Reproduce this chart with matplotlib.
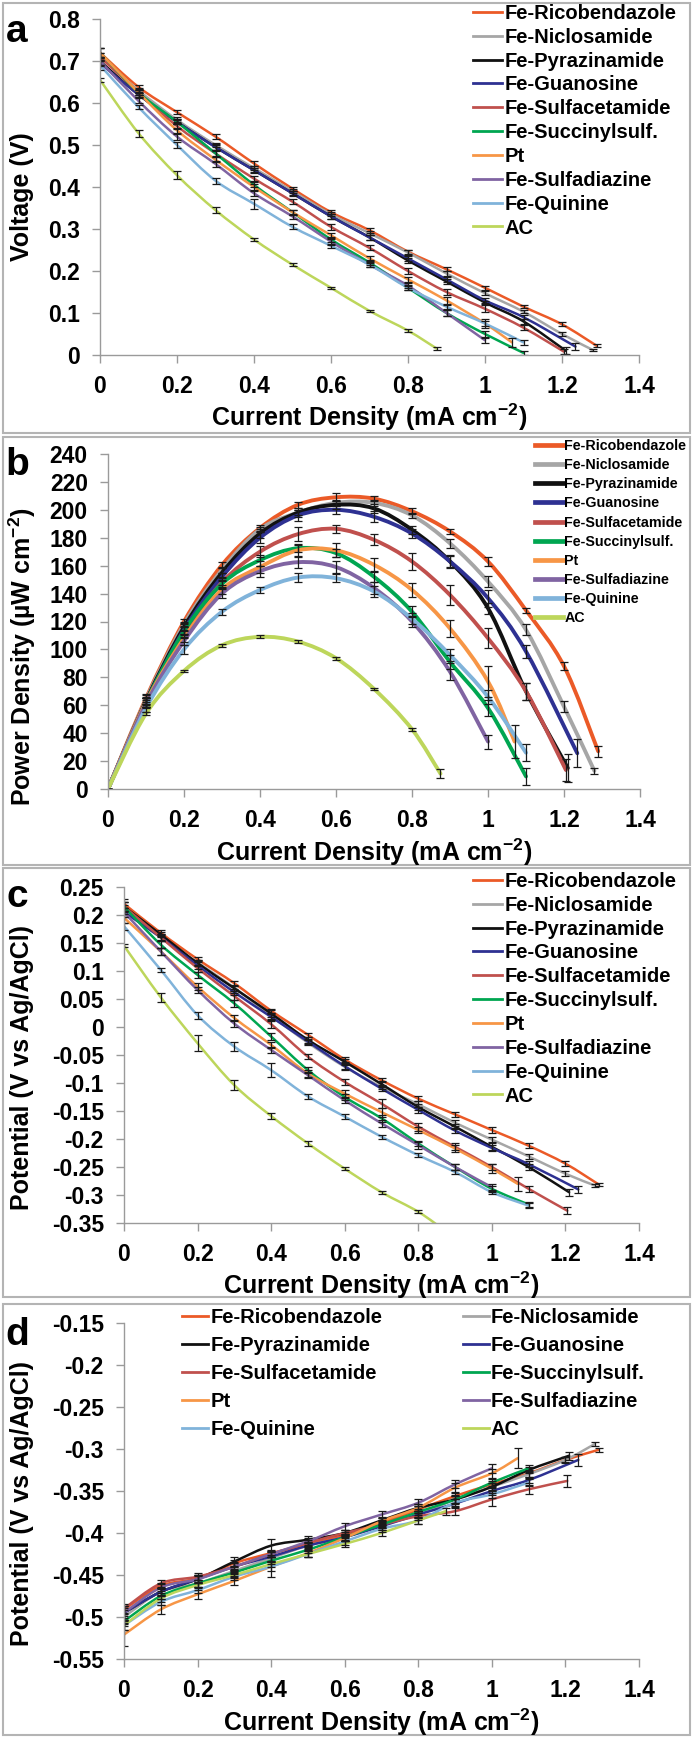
import matplotlib

matplotlib.use("Agg")
import matplotlib.pyplot as plt  # noqa: E402
import numpy as np  # noqa: E402
from matplotlib.lines import Line2D  # noqa: E402
from matplotlib.patches import PathPatch, Rectangle  # noqa: E402
from matplotlib.path import Path  # noqa: E402

plt.rcParams["font.family"] = ["Liberation Sans", "DejaVu Sans"]
plt.rcParams["font.weight"] = "bold"
plt.rcParams["mathtext.fontset"] = "custom"
plt.rcParams["mathtext.rm"] = "Liberation Sans:bold"
plt.rcParams["mathtext.bf"] = "Liberation Sans:bold"
plt.rcParams["mathtext.default"] = "bf"

W, H = 693, 1738

NAMES = ["Fe-Ricobendazole", "Fe-Niclosamide", "Fe-Pyrazinamide", "Fe-Guanosine",
         "Fe-Sulfacetamide", "Fe-Succinylsulf.", "Pt", "Fe-Sulfadiazine",
         "Fe-Quinine", "AC"]
COLORS = ["#EB5A27", "#A6A6A6", "#111111", "#2E3192", "#C0504D",
          "#00A651", "#F79646", "#8064A2", "#80B3DA", "#BDD65B"]

# current density (mA cm-2), one list per catalyst
CURRENT = [
    [0, .1, .2, .3, .4, .5, .6, .7, .8, .9, 1.0, 1.1, 1.2, 1.29],
    [0, .1, .2, .3, .4, .5, .6, .7, .8, .9, 1.0, 1.1, 1.2, 1.28],
    [0, .1, .2, .3, .4, .5, .6, .7, .8, .9, 1.0, 1.1, 1.21],
    [0, .1, .2, .3, .4, .5, .6, .7, .8, .9, 1.0, 1.1, 1.235],
    [0, .1, .2, .3, .4, .5, .6, .7, .8, .9, 1.0, 1.1, 1.205],
    [0, .1, .2, .3, .4, .5, .6, .7, .8, .9, 1.0, 1.1],
    [0, .1, .2, .3, .4, .5, .6, .7, .8, .9, 1.0, 1.07],
    [0, .1, .2, .3, .4, .5, .6, .7, .8, .9, 1.0],
    [0, .1, .2, .3, .4, .5, .6, .7, .8, .9, 1.0, 1.1],
    [0, .1, .2, .3, .4, .5, .6, .7, .8, .875],
]

# (a) cell voltage (V)
VOLTAGE = [
    [0.72, 0.638, 0.578, 0.52, 0.456, 0.396, 0.34, 0.297, 0.246, 0.204, 0.16, 0.115, 0.073, 0.022],
    [0.71, 0.63, 0.56, 0.5, 0.445, 0.39, 0.335, 0.29, 0.244, 0.194, 0.147, 0.103, 0.05, 0.012],
    [0.70, 0.62, 0.555, 0.495, 0.44, 0.385, 0.33, 0.28, 0.225, 0.175, 0.125, 0.08, 0.01],
    [0.695, 0.62, 0.555, 0.495, 0.44, 0.385, 0.33, 0.28, 0.23, 0.18, 0.13, 0.09, 0.02],
    [0.71, 0.625, 0.545, 0.48, 0.42, 0.365, 0.305, 0.255, 0.2, 0.15, 0.11, 0.065, 0.008],
    [0.72, 0.625, 0.555, 0.48, 0.405, 0.34, 0.275, 0.22, 0.16, 0.1, 0.05, 0.005],
    [0.72, 0.625, 0.535, 0.465, 0.4, 0.34, 0.285, 0.23, 0.18, 0.13, 0.075, 0.03],
    [0.70, 0.605, 0.52, 0.455, 0.385, 0.33, 0.27, 0.215, 0.165, 0.1, 0.035],
    [0.69, 0.59, 0.5, 0.415, 0.36, 0.305, 0.26, 0.215, 0.16, 0.115, 0.075, 0.03],
    [0.655, 0.528, 0.428, 0.345, 0.275, 0.215, 0.16, 0.105, 0.058, 0.015],
]
VOLTAGE_ERR = [
    [0.012, 0.005, 0.005, 0.006, 0.005, 0.005, 0.005, 0.006, 0.005, 0.005, 0.005, 0.004, 0.005, 0.004],
    [0.01, 0.005, 0.006, 0.005, 0.005, 0.005, 0.005, 0.005, 0.005, 0.005, 0.005, 0.004, 0.005, 0.003],
    [0.01, 0.006, 0.005, 0.007, 0.005, 0.005, 0.005, 0.005, 0.005, 0.005, 0.004, 0.005, 0.008],
    [0.008, 0.005, 0.006, 0.006, 0.006, 0.006, 0.006, 0.005, 0.006, 0.005, 0.006, 0.005, 0.008],
    [0.01, 0.005, 0.008, 0.008, 0.006, 0.006, 0.008, 0.006, 0.008, 0.006, 0.008, 0.006, 0.006],
    [0.01, 0.005, 0.006, 0.006, 0.006, 0.006, 0.006, 0.006, 0.006, 0.006, 0.006, 0.004],
    [0.012, 0.006, 0.006, 0.006, 0.006, 0.006, 0.006, 0.006, 0.006, 0.008, 0.01, 0.01],
    [0.01, 0.006, 0.007, 0.007, 0.006, 0.006, 0.007, 0.006, 0.006, 0.006, 0.006],
    [0.012, 0.005, 0.007, 0.007, 0.012, 0.006, 0.005, 0.005, 0.005, 0.005, 0.005, 0.006],
    [0.004, 0.008, 0.01, 0.008, 0.004, 0.004, 0.003, 0.003, 0.003, 0.003],
]

# (b) power density (uW cm-2)
POWER = [
    [0, 65, 120, 160.5, 187, 203.6, 209, 208, 199, 184.5, 163, 128, 88, 27],
    [0, 64, 118, 157, 186, 198, 205, 205, 196, 176, 148.6, 114, 59, 13],
    [0, 63, 116, 155, 183, 198, 203.6, 201, 185.7, 163, 129.5, 70, 15],
    [0, 62, 114, 152, 180, 196, 200, 195, 183, 163, 136.7, 98.5, 25.6],
    [0, 62, 111, 148, 170, 182.6, 186.4, 178.5, 163, 139, 108, 70, 13.6],
    [0, 62, 113, 147, 164, 172.5, 169, 152, 127, 91, 58, 9],
    [0, 62, 108, 143, 159, 171, 171, 160.6, 142.6, 115, 77, 34],
    [0, 61, 106, 140, 156, 162.5, 159, 144, 120, 84, 34],
    [0, 58, 100, 127, 142.6, 151.5, 151, 141.5, 122, 96, 66, 26],
    [0, 54, 84.6, 103, 109, 105.6, 93.7, 71.7, 42.8, 11],
]
POWER_ERR = [
    [0, 3, 2, 2, 2, 2, 3, 2, 2, 2, 3, 2, 3, 4],
    [0, 3, 2, 2, 2, 2, 2, 2, 2, 3, 4, 4, 4, 2],
    [0, 3, 3, 3, 3, 3, 3, 3, 3, 5, 4, 6, 10],
    [0, 3, 3, 3, 4, 4, 3, 4, 3, 4, 6, 5, 10],
    [0, 3, 3, 3, 4, 5, 3, 4, 6, 7, 7, 6, 8],
    [0, 3, 3, 3, 4, 3, 3, 4, 4, 5, 6, 6],
    [0, 3, 3, 3, 4, 4, 5, 5, 5, 6, 11, 12],
    [0, 3, 3, 3, 4, 4, 4, 4, 4, 6, 5],
    [0, 3, 3, 2, 2, 3, 3, 4, 4, 4, 5, 6],
    [0, 1, 1, 1, 1, 1, 1, 1, 1, 3],
]

# (c) cathode potential (V vs Ag/AgCl)
CATHODE = [
    [0.22, 0.168, 0.121, 0.078, 0.029, -0.014, -0.058, -0.095, -0.128, -0.156, -0.184, -0.212, -0.244, -0.281],
    [0.21, 0.16, 0.115, 0.07, 0.02, -0.028, -0.071, -0.107, -0.138, -0.171, -0.201, -0.231, -0.262, -0.283],
    [0.215, 0.165, 0.114, 0.069, 0.024, -0.023, -0.062, -0.102, -0.143, -0.178, -0.214, -0.25, -0.295],
    [0.205, 0.16, 0.11, 0.062, 0.018, -0.026, -0.07, -0.11, -0.148, -0.185, -0.216, -0.245, -0.29],
    [0.215, 0.16, 0.105, 0.055, 0.005, -0.053, -0.098, -0.137, -0.178, -0.214, -0.25, -0.289, -0.328],
    [0.215, 0.147, 0.093, 0.042, -0.017, -0.077, -0.125, -0.163, -0.208, -0.25, -0.289, -0.317],
    [0.195, 0.135, 0.072, 0.016, -0.032, -0.083, -0.119, -0.152, -0.184, -0.217, -0.253, -0.28],
    [0.205, 0.135, 0.066, 0.006, -0.041, -0.086, -0.131, -0.172, -0.211, -0.25, -0.286],
    [0.18, 0.102, 0.021, -0.035, -0.077, -0.124, -0.16, -0.196, -0.229, -0.259, -0.295, -0.319],
    [0.145, 0.053, -0.029, -0.104, -0.159, -0.208, -0.253, -0.295, -0.33, -0.365],
]
CATHODE_ERR = [
    [0.008, 0.005, 0.004, 0.005, 0.004, 0.004, 0.004, 0.004, 0.004, 0.004, 0.005, 0.004, 0.004, 0.003],
    [0.008, 0.005, 0.005, 0.005, 0.005, 0.005, 0.005, 0.004, 0.005, 0.005, 0.005, 0.004, 0.004, 0.002],
    [0.008, 0.005, 0.005, 0.005, 0.006, 0.005, 0.005, 0.006, 0.005, 0.005, 0.006, 0.005, 0.006],
    [0.008, 0.006, 0.006, 0.005, 0.005, 0.005, 0.005, 0.005, 0.005, 0.005, 0.006, 0.005, 0.006],
    [0.008, 0.006, 0.006, 0.006, 0.006, 0.005, 0.005, 0.008, 0.007, 0.006, 0.006, 0.005, 0.006],
    [0.008, 0.006, 0.006, 0.007, 0.006, 0.005, 0.006, 0.006, 0.005, 0.005, 0.005, 0.004],
    [0.01, 0.006, 0.006, 0.006, 0.006, 0.006, 0.006, 0.008, 0.006, 0.006, 0.008, 0.012],
    [0.008, 0.006, 0.006, 0.006, 0.006, 0.005, 0.005, 0.006, 0.006, 0.006, 0.006],
    [0.006, 0.004, 0.006, 0.008, 0.012, 0.005, 0.004, 0.004, 0.004, 0.004, 0.004, 0.004],
    [0.003, 0.008, 0.014, 0.009, 0.005, 0.004, 0.003, 0.003, 0.003, 0.003],
]

# (d) anode potential (V vs Ag/AgCl)
ANODE = [
    [-0.491, -0.463, -0.454, -0.436, -0.424, -0.414, -0.402, -0.388, -0.372, -0.356, -0.342, -0.329, -0.313, -0.301],
    [-0.5, -0.47, -0.46, -0.445, -0.43, -0.415, -0.405, -0.39, -0.378, -0.36, -0.345, -0.33, -0.313, -0.294],
    [-0.495, -0.47, -0.455, -0.434, -0.415, -0.408, -0.4, -0.385, -0.37, -0.36, -0.345, -0.325, -0.308],
    [-0.495, -0.47, -0.455, -0.44, -0.428, -0.415, -0.405, -0.392, -0.378, -0.365, -0.35, -0.337, -0.313],
    [-0.49, -0.46, -0.452, -0.44, -0.425, -0.412, -0.4, -0.39, -0.38, -0.374, -0.36, -0.348, -0.338],
    [-0.505, -0.475, -0.46, -0.447, -0.433, -0.42, -0.405, -0.39, -0.375, -0.36, -0.34, -0.323],
    [-0.521, -0.491, -0.473, -0.457, -0.44, -0.424, -0.406, -0.386, -0.37, -0.346, -0.329, -0.311],
    [-0.495, -0.465, -0.455, -0.44, -0.425, -0.41, -0.392, -0.378, -0.364, -0.342, -0.323],
    [-0.51, -0.482, -0.468, -0.452, -0.44, -0.425, -0.41, -0.395, -0.385, -0.364, -0.354, -0.34],
    [-0.51, -0.478, -0.462, -0.45, -0.437, -0.425, -0.413, -0.4, -0.385, -0.374],
]
ANODE_ERR = [
    [0.004, 0.004, 0.004, 0.004, 0.004, 0.003, 0.003, 0.004, 0.004, 0.004, 0.004, 0.004, 0.004, 0.002],
    [0.008, 0.004, 0.004, 0.004, 0.004, 0.003, 0.003, 0.003, 0.004, 0.004, 0.004, 0.004, 0.003, 0.002],
    [0.008, 0.005, 0.005, 0.005, 0.008, 0.004, 0.004, 0.004, 0.004, 0.005, 0.005, 0.004, 0.005],
    [0.008, 0.005, 0.005, 0.005, 0.005, 0.004, 0.004, 0.004, 0.004, 0.005, 0.005, 0.004, 0.007],
    [0.006, 0.004, 0.004, 0.004, 0.004, 0.004, 0.004, 0.004, 0.004, 0.005, 0.008, 0.005, 0.007],
    [0.006, 0.004, 0.004, 0.004, 0.004, 0.004, 0.004, 0.004, 0.004, 0.004, 0.004, 0.004],
    [0.014, 0.005, 0.005, 0.005, 0.005, 0.004, 0.004, 0.004, 0.004, 0.005, 0.005, 0.012],
    [0.006, 0.004, 0.004, 0.004, 0.004, 0.004, 0.004, 0.004, 0.004, 0.005, 0.005],
    [0.006, 0.004, 0.004, 0.004, 0.012, 0.004, 0.004, 0.004, 0.004, 0.004, 0.004, 0.004],
    [0.005, 0.004, 0.004, 0.004, 0.004, 0.004, 0.004, 0.004, 0.004, 0.004],
]

X_TICKS = [0, 0.2, 0.4, 0.6, 0.8, 1.0, 1.2, 1.4]
A_TICKS = [0, 0.1, 0.2, 0.3, 0.4, 0.5, 0.6, 0.7, 0.8]
B_TICKS = [0, 20, 40, 60, 80, 100, 120, 140, 160, 180, 200, 220, 240]
C_TICKS = [-0.35, -0.3, -0.25, -0.2, -0.15, -0.1, -0.05, 0, 0.05, 0.1, 0.15, 0.2, 0.25]
D_TICKS = [-0.55, -0.5, -0.45, -0.4, -0.35, -0.3, -0.25, -0.2, -0.15]

AXIS_GREY = "#9A9A9A"
FRAME_GREY = "#B4B4B4"
XLABEL = "Current Density (mA cm$^{-2}$)"

fig = plt.figure(figsize=(W / 100, H / 100), dpi=100)


def px_axes(left, right, top, bottom):
    return fig.add_axes([left / W, 1 - bottom / H, (right - left) / W, (bottom - top) / H])


def fig_text(x, y, s, **kw):
    fig.text(x / W, 1 - y / H, s, **kw)


def smooth_path(x, y):
    # Bezier segments through the points, like a spreadsheet "smoothed line"
    pts = np.column_stack([np.asarray(x, float), np.asarray(y, float)])
    n = len(pts)
    verts, codes = [pts[0]], [Path.MOVETO]
    for i in range(n - 1):
        p0 = pts[i - 1] if i > 0 else pts[i]
        p1, p2 = pts[i], pts[i + 1]
        p3 = pts[i + 2] if i + 2 < n else pts[i + 1]
        verts += [p1 + (p2 - p0) / 6, p2 - (p3 - p1) / 6, p2]
        codes += [Path.CURVE4] * 3
    return Path(verts, codes)


def fmt(v, _pos=None):
    return f"{round(v, 3) + 0:g}"


def panel(box, yvals, yerr, yticks, ylim, lw):
    ax = px_axes(*box)
    for x, y, e, c in zip(CURRENT, yvals, yerr, COLORS):
        ax.add_patch(PathPatch(smooth_path(x, y), fill=False, ec=c, lw=lw,
                               capstyle="round", joinstyle="round"))
        ax.errorbar(x, y, yerr=e, fmt="none", ecolor="#1A1A1A", elinewidth=0.9,
                    capsize=2.6, capthick=0.9)
    ax.set_xlim(0, 1.4)
    ax.set_ylim(*ylim)
    ax.set_xticks(X_TICKS)
    ax.set_yticks(yticks)
    ax.xaxis.set_major_formatter(fmt)
    ax.yaxis.set_major_formatter(fmt)
    for s in ("top", "right"):
        ax.spines[s].set_visible(False)
    for s in ("left", "bottom"):
        ax.spines[s].set_color(AXIS_GREY)
        ax.spines[s].set_linewidth(1.0)
    ax.tick_params(direction="out", length=5.5, width=1, color=AXIS_GREY,
                   labelsize=16.5, labelcolor="black")
    ax.tick_params(axis="x", pad=9)
    ax.tick_params(axis="y", pad=9)
    for t in ax.get_xticklabels() + ax.get_yticklabels():
        t.set_fontweight("bold")
    ax.patch.set_alpha(0)
    return ax


def legend(left, top, fs, lw, hl, ls, order=None, **kw):
    idx = order if order is not None else range(len(NAMES))
    handles = [Line2D([], [], color=COLORS[i], lw=lw) for i in idx]
    labels = [NAMES[i] for i in idx]
    fig.legend(handles, labels, loc="upper left", bbox_to_anchor=(left / W, 1 - top / H),
               frameon=False, borderpad=0, borderaxespad=0, handlelength=hl,
               handletextpad=0.1, labelspacing=ls,
               prop={"size": fs, "weight": "bold"}, **kw)


# panel frames
for y0, y1 in [(3, 433), (437, 865), (868, 1297), (1304, 1735)]:
    fig.patches.append(Rectangle((3 / W, 1 - y1 / H), 687 / W, (y1 - y0) / H,
                                 transform=fig.transFigure, fill=False,
                                 ec=FRAME_GREY, lw=1.5))

# (a) polarization
panel((100, 639, 19, 355), VOLTAGE, VOLTAGE_ERR, A_TICKS, (0, 0.8), 1.8)
legend(473, 4, 14.5, 2.0, 1.45, 0.24)
fig_text(369, 417, XLABEL, ha="center", va="center", fontsize=18)
fig_text(22, 197, "Voltage (V)", ha="center", va="center", rotation=90, fontsize=18)
fig_text(6, 42, "a", fontsize=28, va="baseline")

# (b) power density
panel((108, 640, 454, 789), POWER, POWER_ERR, B_TICKS, (0, 240), 2.8)
legend(535, 439, 10.3, 3.4, 1.95, 0.36)
fig_text(374, 852, XLABEL, ha="center", va="center", fontsize=18)
fig_text(22, 657, "Power Density (µW cm$^{-2}$)", ha="center", va="center",
         rotation=90, fontsize=18)
fig_text(5, 475, "b", fontsize=28, va="baseline")

# (c) cathode potential
panel((124, 639, 887, 1223), CATHODE, CATHODE_ERR, C_TICKS, (-0.35, 0.25), 1.8)
legend(473, 872, 14.5, 2.0, 1.45, 0.24)
fig_text(381, 1285, XLABEL, ha="center", va="center", fontsize=18)
fig_text(22, 1067, "Potential (V vs Ag/AgCl)", ha="center", va="center",
         rotation=90, fontsize=18)
fig_text(6, 907, "c", fontsize=28, va="baseline")

# (d) anode potential
panel((124, 639, 1323, 1659), ANODE, ANODE_ERR, D_TICKS, (-0.55, -0.15), 1.8)
legend(182, 1308, 14.5, 2.0, 1.3, 0.45, order=[0, 2, 4, 6, 8, 1, 3, 5, 7, 9],
       ncol=2, columnspacing=4.0)
fig_text(381, 1722, XLABEL, ha="center", va="center", fontsize=18)
fig_text(22, 1504, "Potential (V vs Ag/AgCl)", ha="center", va="center",
         rotation=90, fontsize=18)
fig_text(5, 1345, "d", fontsize=28, va="baseline")

fig.savefig("out.png", dpi=100)
